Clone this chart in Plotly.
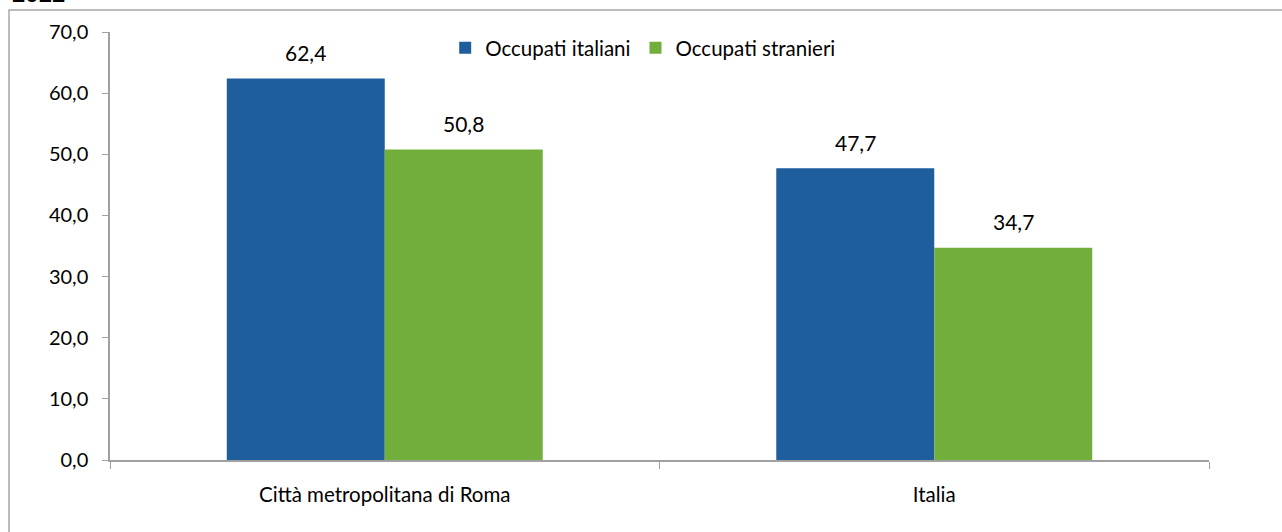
import plotly.graph_objects as go

categories = ["Città metropolitana di Roma", "Italia"]
series_names = ["Occupati italiani", "Occupati stranieri"]
italiani = [62.4, 47.7]
stranieri = [50.8, 34.7]
y_ticks = [0, 10, 20, 30, 40, 50, 60, 70]
title_text = "2022"

FONT = "Lato"
colors = ["#1E5E9D", "#72AE3C"]
offsets = [-79, 79]

fig = go.Figure()
annotations = []
for name, vals, col, off in zip(series_names, [italiani, stranieri], colors, offsets):
    fig.add_trace(go.Bar(
        x=categories, y=vals, name=name,
        marker=dict(color=col, line=dict(width=0)),
    ))
    for c, v in zip(categories, vals):
        annotations.append(dict(x=c, y=v, xref="x", yref="y", xshift=off, yshift=26,
                                text=f"{v:.1f}".replace(".", ","), showarrow=False,
                                xanchor="center", yanchor="middle",
                                font=dict(family=FONT, size=21, color="#000000")))

annotations.append(dict(text=f"<b>{title_text}</b>", xref="paper", yref="paper",
                        x=-0.091, y=1.092, xanchor="left", yanchor="middle",
                        showarrow=False, font=dict(family=FONT, size=23, color="#000000")))

fig.update_layout(
    width=1282, height=532,
    margin=dict(l=110, r=73, t=32, b=72),
    paper_bgcolor="white", plot_bgcolor="white",
    barmode="group", bargap=0.425, bargroupgap=0,
    separators=",.",
    font=dict(family=FONT, size=18, color="#000000"),
    showlegend=True,
    legend=dict(orientation="h", x=0.305, y=0.963, xanchor="left", yanchor="middle",
                font=dict(family=FONT, size=20.5), bgcolor="rgba(0,0,0,0)",
                itemwidth=30, tracegroupgap=0),
    xaxis=dict(type="category", tickson="boundaries", ticks="outside", ticklen=7,
               tickcolor="#A0A0A0", showline=True, linecolor="#A0A0A0", linewidth=1.5,
               showgrid=False, ticklabelstandoff=16,
               tickfont=dict(family=FONT, size=20.5)),
    yaxis=dict(range=[0, 70], tickvals=y_ticks, tickformat=".1f", ticks="outside",
               ticklen=6, tickcolor="#A0A0A0", showline=True, linecolor="#A0A0A0",
               linewidth=1.5, showgrid=False, zeroline=False, ticklabelstandoff=10,
               tickfont=dict(family=FONT, size=20)),
    shapes=[dict(type="rect", xref="paper", yref="paper",
                 x0=-0.0919, x1=1.2, y0=-0.3, y1=1.0514,
                 line=dict(color="#A6A6A6", width=1.5), fillcolor="rgba(0,0,0,0)", layer="below")],
    annotations=annotations,
)

fig.write_html("out.html", config={"displayModeBar": False},
               post_script="document.body.style.margin='0';")
